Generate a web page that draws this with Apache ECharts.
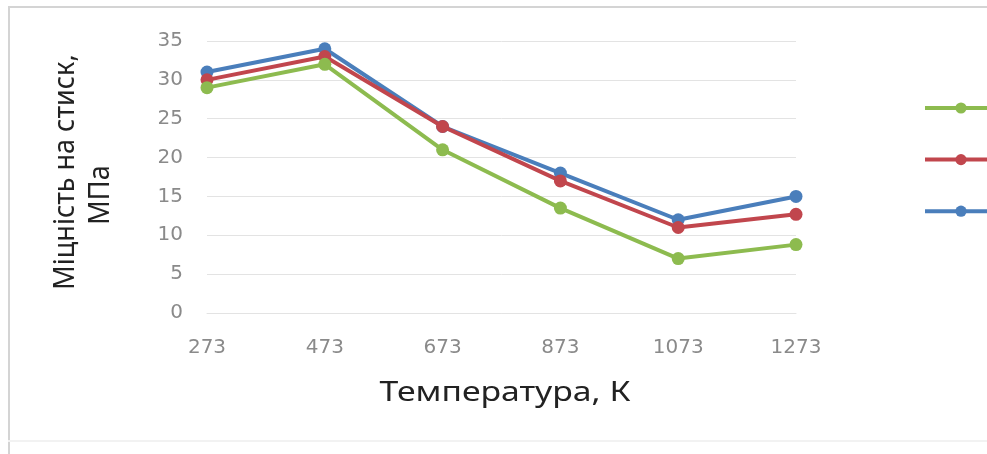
<!DOCTYPE html>
<html>
<head>
<meta charset="utf-8">
<script src="https://cdn.jsdelivr.net/npm/echarts@6/dist/echarts.min.js"></script>
<style>
  html, body { margin: 0; padding: 0; background: #fff; }
  #chart { width: 987px; height: 454px; }
</style>
</head>
<body>
<div id="chart"></div>
<script>
// Temperatures (K) on the category axis
const temperatures = ['273', '473', '673', '873', '1073', '1273'];

// Compressive strength, MPa, for three specimens
const seriesGreen = [29, 32, 21, 13.5, 7, 8.8];
const seriesRed   = [30, 33, 24, 17, 11, 12.7];
const seriesBlue  = [31, 34, 24, 18, 12, 15];

const yTicks = { min: 0, max: 35, interval: 5 };

const TITLE_FONT = '"Noto Sans", "Open Sans", sans-serif';
const TICK_FONT = '"DejaVu Sans", sans-serif';

function lineSeries(name, data, color, z) {
  return {
    name: name,
    type: 'line',
    data: data,
    z: z,
    symbol: 'circle',
    symbolSize: 13,
    lineStyle: { color: color, width: 4 },
    itemStyle: { color: color },
    emphasis: { disabled: true }
  };
}

const chart = echarts.init(document.getElementById('chart'), null, { renderer: 'canvas' });

chart.setOption({
  animation: false,
  backgroundColor: '#ffffff',
  graphic: [
    // chart frame
    { type: 'line', shape: { x1: 8, y1: 7, x2: 987, y2: 7 }, style: { stroke: '#d4d4d4', lineWidth: 2 } },
    { type: 'line', shape: { x1: 9, y1: 7, x2: 9, y2: 454 }, style: { stroke: '#d4d4d4', lineWidth: 2 } },
    { type: 'line', shape: { x1: 8, y1: 441, x2: 987, y2: 441 }, style: { stroke: '#f2f2f2', lineWidth: 2 } },
    // value axis title, two lines
    {
      type: 'text', x: 66, y: 172, rotation: Math.PI / 2, scaleY: 1.1,
      style: { text: 'Міцність на стиск,', font: '27px ' + TITLE_FONT, fill: '#222', align: 'center', verticalAlign: 'middle' }
    },
    {
      type: 'text', x: 101, y: 195, rotation: Math.PI / 2, scaleY: 1.1,
      style: { text: 'МПа', font: '27px ' + TITLE_FONT, fill: '#222', align: 'center', verticalAlign: 'middle' }
    },
    // category axis title
    {
      type: 'text', x: 505, y: 393, scaleX: 1.25,
      style: { text: 'Температура, К', font: '27px ' + TITLE_FONT, fill: '#222', align: 'center', verticalAlign: 'middle' }
    }
  ],
  grid: { left: 207, right: 191, top: 41, bottom: 141, containLabel: false },
  legend: {
    orient: 'vertical',
    left: 918,
    top: 96,
    itemWidth: 72,
    itemHeight: 14,
    itemGap: 39,
    formatter: () => '',
    selectedMode: false,
    lineStyle: { width: 4 },
    data: ['Зразок 1', 'Зразок 2', 'Зразок 3']
  },
  xAxis: {
    type: 'category',
    data: temperatures,
    boundaryGap: false,
    axisLine: { show: true, lineStyle: { color: '#e3e3e3', width: 1 } },
    axisTick: { show: false },
    axisLabel: { color: '#8a8a8a', fontSize: 20, fontFamily: TICK_FONT, margin: 25 }
  },
  yAxis: {
    type: 'value',
    min: yTicks.min,
    max: yTicks.max,
    interval: yTicks.interval,
    axisLine: { show: false },
    axisTick: { show: false },
    axisLabel: { color: '#8a8a8a', fontSize: 20, fontFamily: TICK_FONT, margin: 24 },
    splitLine: { lineStyle: { color: '#e3e3e3', width: 1 } }
  },
  series: [
    lineSeries('Зразок 1', seriesGreen, '#8dbb4f', 4),
    lineSeries('Зразок 2', seriesRed, '#c1464d', 3),
    lineSeries('Зразок 3', seriesBlue, '#4a7ebb', 2)
  ]
});
</script>
</body>
</html>
